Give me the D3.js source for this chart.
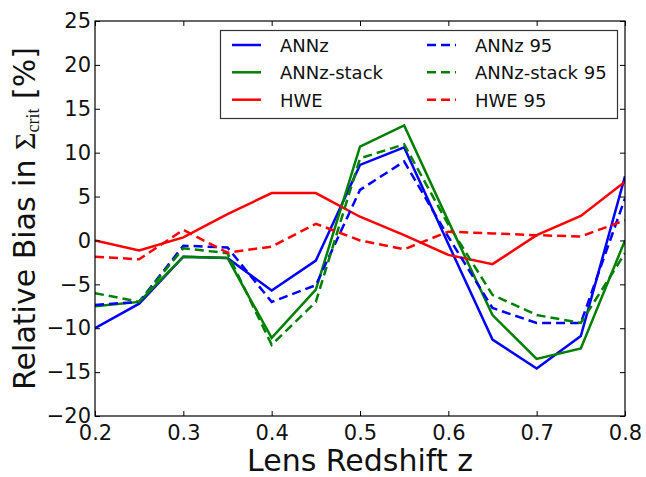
<!DOCTYPE html>
<html>
<head>
<meta charset="utf-8">
<script src="https://cdn.jsdelivr.net/npm/d3@7"></script>
<style>
  html, body { margin: 0; padding: 0; background: #fff; }
  svg { display: block; }
</style>
</head>
<body>
<svg id="chart" width="646" height="477"></svg>
<script>
// Lens redshift bins
const z = [0.2, 0.25, 0.3, 0.35, 0.4, 0.45, 0.5, 0.55, 0.6, 0.65, 0.7, 0.75, 0.8];

// Relative bias in Sigma_crit [%] per method
const annz        = [-10.0, -7.2, -1.85, -2.0, -5.7, -2.3, 8.6, 10.6, -0.4, -11.3, -14.6, -10.9, 7.3];
const annzStack   = [-7.5, -7.0, -1.85, -2.0, -11.1, -5.6, 10.7, 13.1, 2.2, -8.5, -13.5, -12.3, 0.0];
const hwe         = [0.0, -1.15, 0.35, 3.0, 5.4, 5.4, 2.7, 0.6, -1.65, -2.7, 0.6, 2.8, 6.7];
const annz95      = [-7.35, -7.0, -0.6, -0.8, -7.0, -5.1, 5.75, 9.0, 0.4, -7.7, -9.4, -9.4, 4.8];
const annzStack95 = [-6.0, -7.0, -0.9, -1.45, -11.9, -7.0, 9.35, 10.95, 1.8, -6.2, -8.5, -9.4, -1.45];
const hwe95       = [-1.85, -2.15, 1.2, -1.4, -0.7, 1.9, 0.0, -1.0, 1.0, 0.8, 0.6, 0.45, 2.3];

const seriesNames = ["ANNz", "ANNz-stack", "HWE", "ANNz 95", "ANNz-stack 95", "HWE 95"];
const seriesValues = [annz, annzStack, hwe, annz95, annzStack95, hwe95];
const seriesColors = ["#0000ff", "#008000", "#ff0000", "#0000ff", "#008000", "#ff0000"];
const seriesDashed = [false, false, false, true, true, true];

const xTicks = [0.2, 0.3, 0.4, 0.5, 0.6, 0.7, 0.8];
const yTicks = [-20, -15, -10, -5, 0, 5, 10, 15, 20, 25];

const svg = d3.select("#chart");
const m = { left: 95, right: 625, top: 21, bottom: 416 };
const font = "'DejaVu Sans', sans-serif";
const serif = "'Liberation Serif', serif";

const x = d3.scaleLinear().domain([0.2, 0.8]).range([m.left, m.right]);
const y = d3.scaleLinear().domain([-20, 25]).range([m.bottom, m.top]);

svg.append("defs").append("clipPath").attr("id", "plotclip")
  .append("rect").attr("x", m.left).attr("y", m.top)
  .attr("width", m.right - m.left).attr("height", m.bottom - m.top);

// Lines
const line = d3.line().x((d, i) => x(z[i])).y(d => y(d));
const lines = svg.append("g").attr("clip-path", "url(#plotclip)");
seriesValues.forEach((vals, k) => {
  lines.append("path")
    .datum(vals)
    .attr("d", line)
    .attr("fill", "none")
    .attr("stroke", seriesColors[k])
    .attr("stroke-width", 2.5)
    .attr("stroke-linejoin", "miter")
    .attr("stroke-dasharray", seriesDashed[k] ? "9,5" : null);
});

// Axes: ticks point inward on all four sides
function styleAxis(g) {
  g.select(".domain").remove();
  g.selectAll(".tick line").attr("stroke", "#000").attr("stroke-width", 1);
  g.selectAll(".tick text").attr("font-family", font).attr("font-size", 21).attr("fill", "#111");
}
svg.append("g").attr("transform", `translate(0,${m.bottom})`)
  .call(d3.axisBottom(x).tickValues(xTicks).tickFormat(d3.format(".1f")).tickSizeInner(-5).tickPadding(9))
  .call(styleAxis);
svg.append("g").attr("transform", `translate(0,${m.top})`)
  .call(d3.axisTop(x).tickValues(xTicks).tickSizeInner(-5).tickFormat(""))
  .call(styleAxis);
svg.append("g").attr("transform", `translate(${m.left},0)`)
  .call(d3.axisLeft(y).tickValues(yTicks).tickFormat(d => d < 0 ? "\u2212" + Math.abs(d) : d).tickSizeInner(-5).tickPadding(4))
  .call(styleAxis);
svg.append("g").attr("transform", `translate(${m.right},0)`)
  .call(d3.axisRight(y).tickValues(yTicks).tickSizeInner(-5).tickFormat(""))
  .call(styleAxis);

// Frame
svg.append("rect")
  .attr("x", m.left).attr("y", m.top)
  .attr("width", m.right - m.left).attr("height", m.bottom - m.top)
  .attr("fill", "none").attr("stroke", "#000").attr("stroke-width", 1.2);

// Axis labels
svg.append("text")
  .attr("x", (m.left + m.right) / 2).attr("y", 471)
  .attr("text-anchor", "middle")
  .attr("font-family", font).attr("font-size", 30).attr("fill", "#111")
  .text("Lens Redshift z");

const yl = svg.append("text")
  .attr("transform", `translate(35,${(m.top + m.bottom) / 2}) rotate(-90)`)
  .attr("text-anchor", "middle")
  .attr("font-family", font).attr("font-size", 30).attr("fill", "#111");
yl.append("tspan").text("Relative Bias in ");
yl.append("tspan").attr("font-family", serif).attr("font-size", 30).text("\u03A3");
yl.append("tspan").attr("font-family", serif).attr("font-size", 18).attr("dy", 4).text("crit");
yl.append("tspan").attr("dy", -4).text("  [%]");

// Legend
const legend = svg.append("g");
legend.append("rect")
  .attr("x", 220.5).attr("y", 30.5).attr("width", 397).attr("height", 88)
  .attr("fill", "#fff").attr("stroke", "#333").attr("stroke-width", 1.2);
const colX = [232, 427];
const rowY = [45, 72.3, 99.7];
seriesNames.forEach((name, k) => {
  const c = Math.floor(k / 3), r = k % 3;
  legend.append("line")
    .attr("x1", colX[c]).attr("x2", colX[c] + 29)
    .attr("y1", rowY[r]).attr("y2", rowY[r])
    .attr("stroke", seriesColors[k]).attr("stroke-width", 2.5)
    .attr("stroke-dasharray", seriesDashed[k] ? "9,5" : null);
  legend.append("text")
    .attr("x", colX[c] + 48).attr("y", rowY[r] + 7)
    .attr("font-family", font).attr("font-size", 18).attr("fill", "#111")
    .text(name);
});
</script>
</body>
</html>
